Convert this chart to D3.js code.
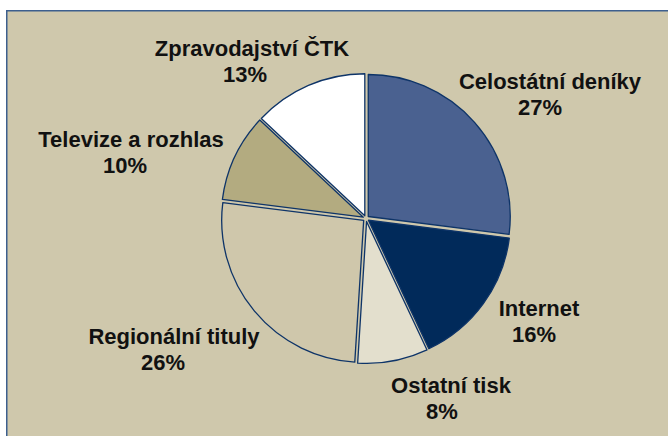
<!DOCTYPE html>
<html>
<head>
<meta charset="utf-8">
<script src="https://d3js.org/d3.v7.min.js"></script>
<style>
  body { margin: 0; background: #fff; }
  text { font-family: "Liberation Sans", Arial, sans-serif; font-weight: bold; fill: #111; }
</style>
</head>
<body>
<div id="chart"></div>
<script>
// data
var categories = ["Celostátní deníky", "Internet", "Ostatní tisk", "Regionální tituly", "Televize a rozhlas", "Zpravodajství ČTK"];
var shares = [27, 16, 8, 26, 10, 13];
var colors = ["#4a6190", "#012a5a", "#e3dfcd", "#cfc7ab", "#b3ab80", "#ffffff"];

// label placement: line 1 centre x, line 2 centre x, baseline of line 1
var labelPos = [
  [550, 540, 89],
  [539, 534, 316],
  [451, 442, 393],
  [174, 163, 344],
  [131, 125, 147],
  [252, 245, 56]
];

var W = 668, H = 436;
var cx = 366, cy = 218.5, radius = 142, explode = 3;

var svg = d3.select("#chart").append("svg")
  .attr("width", W)
  .attr("height", H);

svg.append("rect")
  .attr("x", 6.75).attr("y", 10.75)
  .attr("width", 700).attr("height", 500)
  .style("fill", "#cfc8ac")
  .style("stroke", "#3d5f8e")
  .style("stroke-width", 1.5);

var pie = d3.pie().sort(null).value(function(d) { return d; });
var arc = d3.arc().innerRadius(0).outerRadius(radius);

var slices = pie(shares);

var g = svg.append("g").attr("transform", "translate(" + cx + "," + cy + ")");

g.selectAll("path")
  .data(slices)
  .enter()
  .append("path")
    .attr("d", arc)
    .attr("transform", function(d) {
      var a = (d.startAngle + d.endAngle) / 2;
      return "translate(" + (explode * Math.sin(a)) + "," + (-explode * Math.cos(a)) + ")";
    })
    .style("fill", function(d, i) { return colors[i]; })
    .style("stroke", "#0e3468")
    .style("stroke-width", 1.3)
    .style("stroke-linejoin", "round");

var labels = svg.append("g")
  .selectAll("text")
  .data(categories)
  .enter()
  .append("text")
    .style("font-size", "22px")
    .attr("text-anchor", "middle");

labels.append("tspan")
  .attr("x", function(d, i) { return labelPos[i][0]; })
  .attr("y", function(d, i) { return labelPos[i][2]; })
  .text(function(d) { return d; });

labels.append("tspan")
  .attr("x", function(d, i) { return labelPos[i][1]; })
  .attr("y", function(d, i) { return labelPos[i][2] + 26; })
  .text(function(d, i) { return shares[i] + "%"; });
</script>
</body>
</html>
